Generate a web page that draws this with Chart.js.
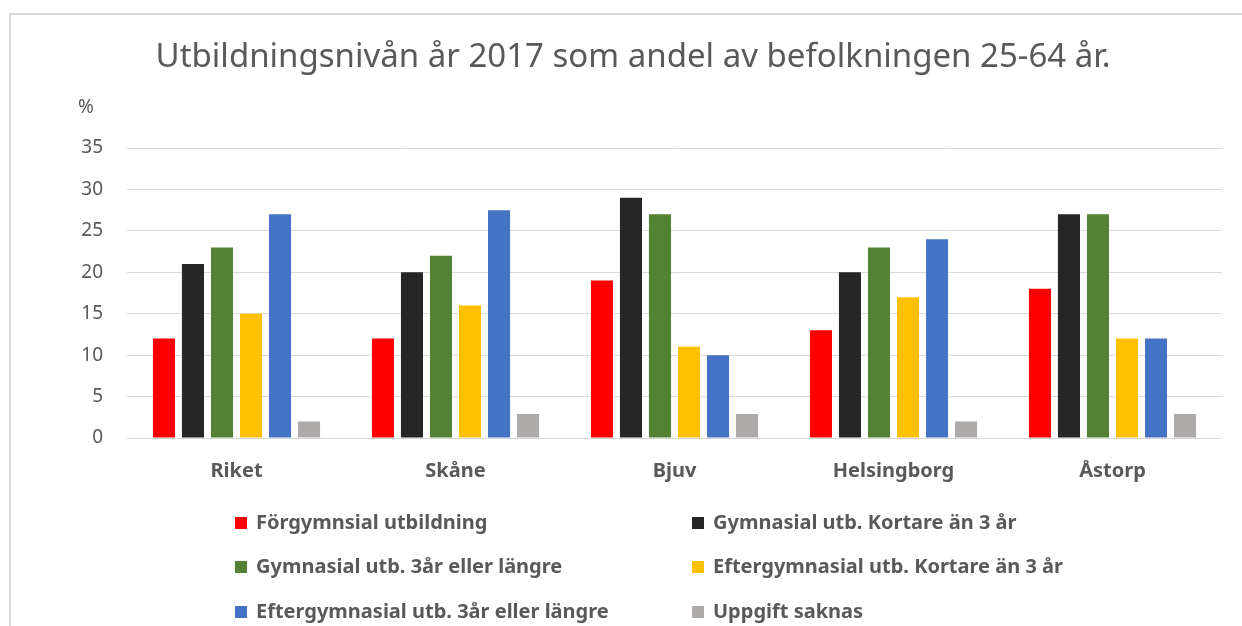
<!DOCTYPE html>
<html lang="sv">
<head>
<meta charset="utf-8">
<title>Utbildningsnivån 2017</title>
<script src="https://cdn.jsdelivr.net/npm/chart.js@4.4.1/dist/chart.umd.min.js"></script>
<style>
  html, body { margin: 0; padding: 0; background: #fff; }
  #wrap { position: relative; width: 1242px; height: 626px; overflow: hidden; }
  #frame {
    position: absolute; left: 9px; top: 13px; right: -10px; bottom: -10px;
    border-top: 2px solid #d9d9d9; border-left: 2px solid #d9d9d9;
  }
  #chart { position: absolute; left: 0; top: 0; }
</style>
</head>
<body>
<div id="wrap">
  <div id="frame"></div>
  <canvas id="chart" width="1242" height="626"></canvas>
</div>
<script>
// Andel av befolkningen 25-64 år, procent
const areas = ['Riket', 'Skåne', 'Bjuv', 'Helsingborg', 'Åstorp'];

const forgymnasial     = [12, 12, 19, 13, 18];
const gymnKort         = [21, 20, 29, 20, 27];
const gymnLang         = [23, 22, 27, 23, 27];
const eftergymnKort    = [15, 16, 11, 17, 12];
const eftergymnLang    = [27, 27.5, 10, 24, 12];
const uppgiftSaknas    = [2, 2.9, 2.9, 2, 2.9];

const seriesNames = [
  'Förgymnsial utbildning',
  'Gymnasial utb. Kortare än 3 år',
  'Gymnasial utb. 3år eller längre',
  'Eftergymnasial utb. Kortare än 3 år',
  'Eftergymnasial utb. 3år eller längre',
  'Uppgift saknas'
];
const seriesColors = ['#ff0000', '#262626', '#548235', '#ffc000', '#4472c4', '#aeaaaa'];
const seriesValues = [forgymnasial, gymnKort, gymnLang, eftergymnKort, eftergymnLang, uppgiftSaknas];

const yTicks = [0, 5, 10, 15, 20, 25, 30, 35];

const titleText = 'Utbildningsnivån år 2017 som andel av befolkningen 25-64 år.';
const textGray = '#595959';
const fontFamily = '"Noto Sans", "Open Sans", sans-serif';

// title, unit label and a two-column legend drawn straight on the canvas
const decorations = {
  id: 'decorations',
  afterDraw(chart) {
    const ctx = chart.ctx;
    ctx.save();
    ctx.fillStyle = textGray;
    ctx.textBaseline = 'middle';

    ctx.font = '33px ' + fontFamily;
    ctx.textAlign = 'center';
    ctx.fillText(titleText, 633, 58);

    ctx.font = '19px ' + fontFamily;
    ctx.fillText('%', 86, 108);

    ctx.font = 'bold 20px ' + fontFamily;
    ctx.textAlign = 'left';
    const colX = [235, 692];
    const rowY = [523, 567, 612];
    chart.data.datasets.forEach((ds, i) => {
      const x = colX[i % 2];
      const y = rowY[Math.floor(i / 2)];
      ctx.fillStyle = ds.backgroundColor;
      ctx.fillRect(x, y - 6, 12, 12);
      ctx.fillStyle = textGray;
      ctx.fillText(ds.label, x + 21, y);
    });
    ctx.restore();
  }
};

new Chart(document.getElementById('chart'), {
  type: 'bar',
  data: {
    labels: areas,
    datasets: seriesNames.map((name, i) => ({
      label: name,
      data: seriesValues[i],
      backgroundColor: seriesColors[i],
      borderWidth: 0,
      categoryPercentage: 0.795,
      barPercentage: 0.76
    }))
  },
  options: {
    responsive: false,
    animation: false,
    devicePixelRatio: 1,
    layout: { padding: { top: 148, right: 20, left: 0, bottom: 0 } },
    plugins: {
      legend: { display: false },
      title: { display: false },
      tooltip: { enabled: false }
    },
    scales: {
      x: {
        grid: { display: false },
        border: { display: false },
        ticks: {
          color: textGray,
          padding: 13,
          font: { family: fontFamily, size: 20, weight: 'bold' }
        },
        afterFit(scale) { scale.height = 188; }
      },
      y: {
        min: 0,
        max: 35,
        afterBuildTicks(scale) { scale.ticks = yTicks.map(v => ({ value: v })); },
        grid: { color: '#d9d9d9', lineWidth: 1, drawTicks: false },
        border: { display: false },
        ticks: {
          color: textGray,
          padding: 24,
          font: { family: fontFamily, size: 19 }
        },
        afterFit(scale) { scale.width = 127; }
      }
    }
  },
  plugins: [decorations]
});
</script>
</body>
</html>
